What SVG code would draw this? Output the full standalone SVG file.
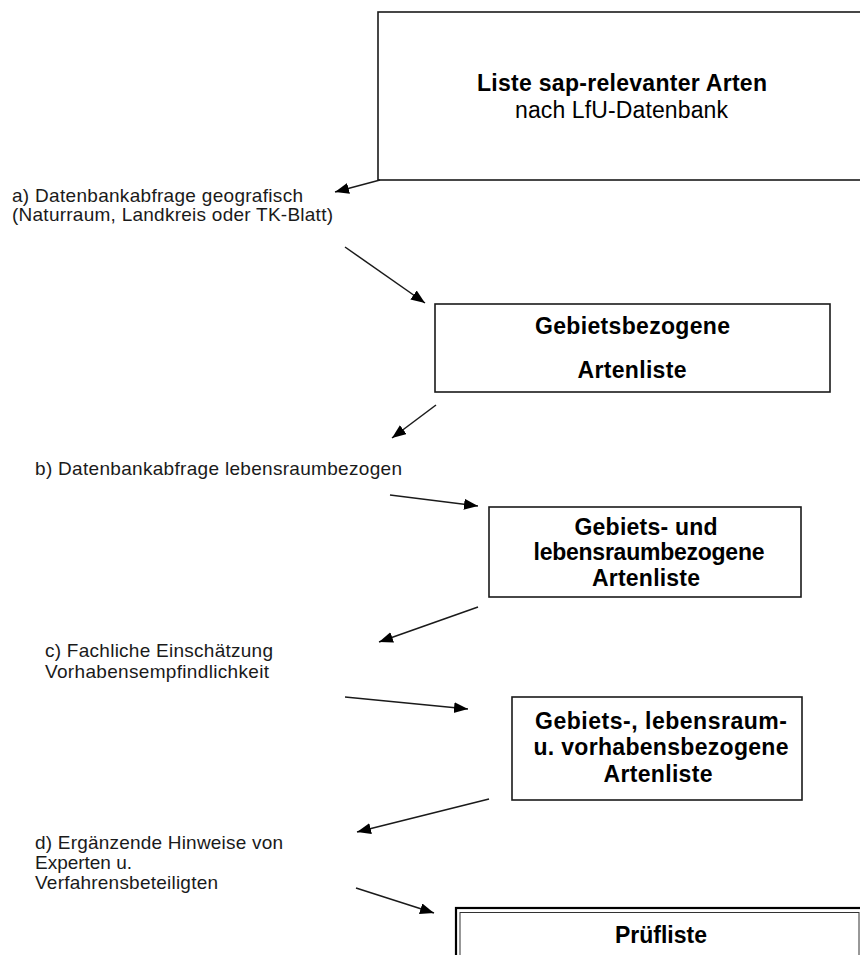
<svg xmlns="http://www.w3.org/2000/svg" width="860" height="955" viewBox="0 0 860 955">
<defs>
<style>
.box{fill:#fff;stroke:#1a1a1a;stroke-width:1.6}
.t{font-family:"Liberation Sans",Arial,sans-serif;font-size:23px;font-weight:bold;fill:#000;text-anchor:middle}
.r{font-family:"Liberation Sans",Arial,sans-serif;font-size:23px;fill:#000;text-anchor:middle}
.a{font-family:"Liberation Sans",Arial,sans-serif;font-size:19px;fill:#1a1a1a}
.c{stroke:#1a1a1a;stroke-width:1.5;fill:none;marker-end:url(#ah)}
</style>
<marker id="ah" markerUnits="userSpaceOnUse" markerWidth="15" markerHeight="12" refX="14" refY="5.5" orient="auto">
<path d="M0,0 L14,5.5 L0,11 z" fill="#000"/>
</marker>
</defs>
<rect width="860" height="955" fill="#fff"/>
<g id="node-liste">
<rect class="box" x="378" y="12" width="500" height="168"/>
<text class="t" x="622" y="91" textLength="290" lengthAdjust="spacing">Liste sap-relevanter Arten</text>
<text class="r" x="621.5" y="118" textLength="213" lengthAdjust="spacing">nach LfU-Datenbank</text>
</g>
<g id="node-gebiet">
<rect class="box" x="435" y="304" width="395" height="88"/>
<text class="t" x="632.5" y="334" textLength="195" lengthAdjust="spacing">Gebietsbezogene</text>
<text class="t" x="632" y="378" textLength="109" lengthAdjust="spacing">Artenliste</text>
</g>
<g id="node-lebensraum">
<rect class="box" x="489" y="507" width="312" height="90" stroke-width="2"/>
<text class="t" x="646" y="535" textLength="143" lengthAdjust="spacing">Gebiets- und</text>
<text class="t" x="649" y="560" textLength="231" lengthAdjust="spacing">lebensraumbezogene</text>
<text class="t" x="646" y="586" textLength="108" lengthAdjust="spacing">Artenliste</text>
</g>
<g id="node-vorhaben">
<rect class="box" x="512" y="697" width="290" height="103" stroke-width="2"/>
<text class="t" x="661" y="729" textLength="252" lengthAdjust="spacing">Gebiets-, lebensraum-</text>
<text class="t" x="661" y="755" textLength="255" lengthAdjust="spacing">u. vorhabensbezogene</text>
<text class="t" x="658" y="782" textLength="109" lengthAdjust="spacing">Artenliste</text>
</g>
<g id="node-pruefliste">
<rect x="456" y="908" width="420" height="60" fill="#fff" stroke="#000" stroke-width="2.2"/>
<rect x="460" y="912.5" width="399" height="60" fill="none" stroke="#333" stroke-width="1"/>
<text class="t" x="661" y="943" textLength="92" lengthAdjust="spacing">Prüfliste</text>
</g>
<g id="labels">
<text class="a" x="12" y="202" textLength="291" lengthAdjust="spacing">a) Datenbankabfrage geografisch</text>
<text class="a" x="12" y="221" textLength="321" lengthAdjust="spacing">(Naturraum, Landkreis oder TK-Blatt)</text>
<text class="a" x="35" y="475" textLength="367" lengthAdjust="spacing">b) Datenbankabfrage lebensraumbezogen</text>
<text class="a" x="45" y="657" textLength="228" lengthAdjust="spacing">c) Fachliche Einschätzung</text>
<text class="a" x="45" y="678" textLength="224" lengthAdjust="spacing">Vorhabensempfindlichkeit</text>
<text class="a" x="35" y="849" textLength="248" lengthAdjust="spacing">d) Ergänzende Hinweise von</text>
<text class="a" x="35" y="869" textLength="97" lengthAdjust="spacing">Experten u.</text>
<text class="a" x="35" y="889" textLength="183" lengthAdjust="spacing">Verfahrensbeteiligten</text>
</g>
<g id="connectors">
<line class="c" x1="380" y1="180" x2="335" y2="192"/>
<line class="c" x1="345" y1="247" x2="425" y2="303"/>
<line class="c" x1="436" y1="405" x2="392" y2="438"/>
<line class="c" x1="390" y1="495" x2="478" y2="506"/>
<line class="c" x1="478" y1="607" x2="379" y2="642"/>
<line class="c" x1="345" y1="697" x2="468" y2="709"/>
<line class="c" x1="489" y1="799" x2="357" y2="832"/>
<line class="c" x1="356" y1="888" x2="434" y2="913"/>
</g>
</svg>
